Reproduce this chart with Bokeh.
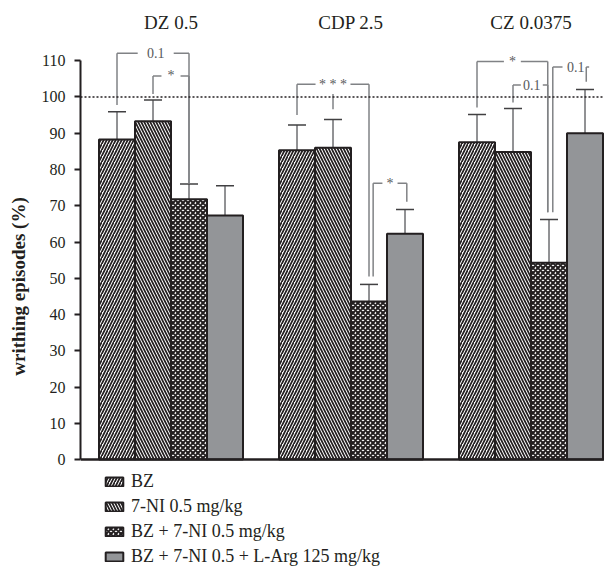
from bokeh.plotting import figure
from bokeh.models import Range1d, FixedTicker, Span, Legend, LegendItem, ColumnDataSource
from bokeh.core.properties import value
from bokeh.embed import file_html
from bokeh.resources import INLINE

# ---------------- data ----------------
groups = ["DZ 0.5", "CDP 2.5", "CZ 0.0375"]
series = ["BZ", "7-NI 0.5 mg/kg", "BZ + 7-NI 0.5 mg/kg", "BZ + 7-NI 0.5 + L-Arg 125 mg/kg"]

bz = [88.3, 85.3, 87.5]
ni = [93.3, 86.0, 84.8]
bz_ni = [71.8, 43.6, 54.3]
bz_ni_larg = [67.3, 62.3, 90.0]

bz_err = [7.6, 7.0, 7.7]
ni_err = [5.9, 7.8, 12.0]
bz_ni_err = [4.2, 4.7, 11.9]
bz_ni_larg_err = [8.2, 6.7, 12.1]

y_ticks = [0, 10, 20, 30, 40, 50, 60, 70, 80, 90, 100, 110]
reference_level = 100

# significance brackets: group, left bar, right bar, top level, left-leg end, right-leg end, label
br_group = [0, 0, 1, 1, 2, 2, 2]
br_left_bar = [0, 1, 0, 2, 0, 1, 2]
br_right_bar = [2, 2, 2, 3, 2, 2, 3]
br_top = [112.1, 105.8, 103.5, 76.2, 109.8, 103.3, 108.3]
br_left_end = [97.8, 100.8, 95.0, 50.5, 97.1, 98.5, 68.2]
br_right_end = [76.2, 76.2, 50.5, 71.1, 68.2, 68.2, 104.2]
br_labels = ["0.1", "*", "* * *", "*", "*", "0.1", "0.1"]

# ---------------- layout constants ----------------
BAR_W = 0.2
values = [bz, ni, bz_ni, bz_ni_larg]
errors = [bz_err, ni_err, bz_ni_err, bz_ni_larg_err]

def bar_x(g, b):
    return g + (b - 1.5) * BAR_W

serif = value("Liberation Serif")
DARK = "#231f20"

p = figure(width=604, height=572, output_backend="svg", toolbar_location=None,
           x_axis_location=None, min_border_left=80, min_border_right=0,
           min_border_top=0, min_border_bottom=0,
           x_range=Range1d(-0.5028, 2.4083), y_range=Range1d(-31.17, 126.62))
p.outline_line_color = None
p.xgrid.visible = False
p.ygrid.visible = False
p.background_fill_color = "white"
p.border_fill_color = "white"

styles = [
    dict(fill_color="white", hatch_pattern="/", hatch_color=DARK, hatch_weight=1.7, hatch_scale=6),
    dict(fill_color="white", hatch_pattern="\\", hatch_color=DARK, hatch_weight=1.7, hatch_scale=6),
    dict(fill_color="white", hatch_pattern="x", hatch_color=DARK, hatch_weight=2.0, hatch_scale=5),
    dict(fill_color="#939598"),
]

renderers = []
for b in range(4):
    xs = [bar_x(g, b) for g in range(3)]
    src = ColumnDataSource(dict(x=xs, top=values[b],
                                cap=[v + e for v, e in zip(values[b], errors[b])]))
    # error bars (upper only)
    p.segment(x0="x", y0="top", x1="x", y1="cap", source=src, line_color="#6d6e71", line_width=1.5)
    p.segment(x0=[x - 0.05 for x in xs], y0=src.data["cap"], x1=[x + 0.05 for x in xs],
              y1=src.data["cap"], line_color="#414042", line_width=1.5)
    r = p.vbar(x="x", top="top", bottom=0, width=BAR_W, source=src,
               line_color=DARK, line_width=2, **styles[b])
    renderers.append(r)

# reference line at 100
p.add_layout(Span(location=reference_level, dimension="width", line_color=DARK,
                  line_dash="2 2", line_width=1.5))
# baseline
p.add_layout(Span(location=0, dimension="width", line_color=DARK, line_width=2.5))

# brackets
leg_shift = {(3, "l"): 0.023, (4, "r"): -0.007, (5, "r"): -0.007, (6, "l"): 0.021, (3, "r"): 0.01, (6, "r"): 0.007}
gap_half = [0.10, 0.053, 0.097, 0.042, 0.047, 0.061, 0.074]
label_shift = [0.015, 0.0, 0.0, 0.0, 0.0, 0.008, 0.035]
x0s, y0s, x1s, y1s = [], [], [], []
lx, ly = [], []
for i in range(len(br_labels)):
    xl = bar_x(br_group[i], br_left_bar[i]) + leg_shift.get((i, "l"), 0)
    xr = bar_x(br_group[i], br_right_bar[i]) + leg_shift.get((i, "r"), 0)
    xc = (xl + xr) / 2 + label_shift[i]
    yt = br_top[i]
    g = gap_half[i]
    for a, bb, c, d in [(xl, yt, xc - g, yt), (xc + g, yt, xr, yt),
                        (xl, yt, xl, br_left_end[i]), (xr, yt, xr, br_right_end[i])]:
        x0s.append(a); y0s.append(bb); x1s.append(c); y1s.append(d)
    lx.append(xc); ly.append(yt)
# middle leg of the CDP bracket pointing to 7-NI
x0s.append(bar_x(1, 1)); y0s.append(100.8); x1s.append(bar_x(1, 1)); y1s.append(96.6)
p.segment(x0=x0s, y0=y0s, x1=x1s, y1=y1s, line_color="#808285", line_width=1.5)
p.text(x=lx, y=ly, text=br_labels, text_align="center", text_baseline="middle",
       text_font=serif, text_font_size="14px", text_color="#58595b")

# group titles
p.text(x=[0, 1, 2], y=[120.6] * 3, text=groups, text_align="center", text_baseline="middle",
       text_font=serif, text_font_size="19px", text_color=DARK)

# y axis
ax = p.yaxis[0]
ax.ticker = FixedTicker(ticks=y_ticks)
ax.bounds = (0, 110)
ax.minor_tick_line_color = None
ax.major_tick_in = 0
ax.major_tick_out = 6
ax.major_tick_line_width = 2
ax.major_tick_line_color = DARK
ax.axis_line_width = 2
ax.axis_line_color = DARK
ax.major_label_text_font = "Liberation Serif"
ax.major_label_text_font_size = "16px"
ax.major_label_text_color = DARK
ax.major_label_standoff = 9
ax.axis_label = "writhing episodes (%)"
ax.axis_label_text_font = "Liberation Serif"
ax.axis_label_text_font_style = "bold"
ax.axis_label_text_font_size = "19px"
ax.axis_label_text_color = DARK
ax.axis_label_standoff = 10

legend = Legend(items=[LegendItem(label=series[i], renderers=[renderers[i]]) for i in range(4)],
                location=(23, 5), orientation="vertical",
                label_text_font="Liberation Serif", label_text_font_size="18px",
                label_text_color=DARK, glyph_width=22, glyph_height=11,
                label_height=20, spacing=4, padding=0, margin=0, label_standoff=6,
                border_line_color=None, background_fill_alpha=0)
p.add_layout(legend)

open("out.html", "w").write(file_html(p, INLINE))
